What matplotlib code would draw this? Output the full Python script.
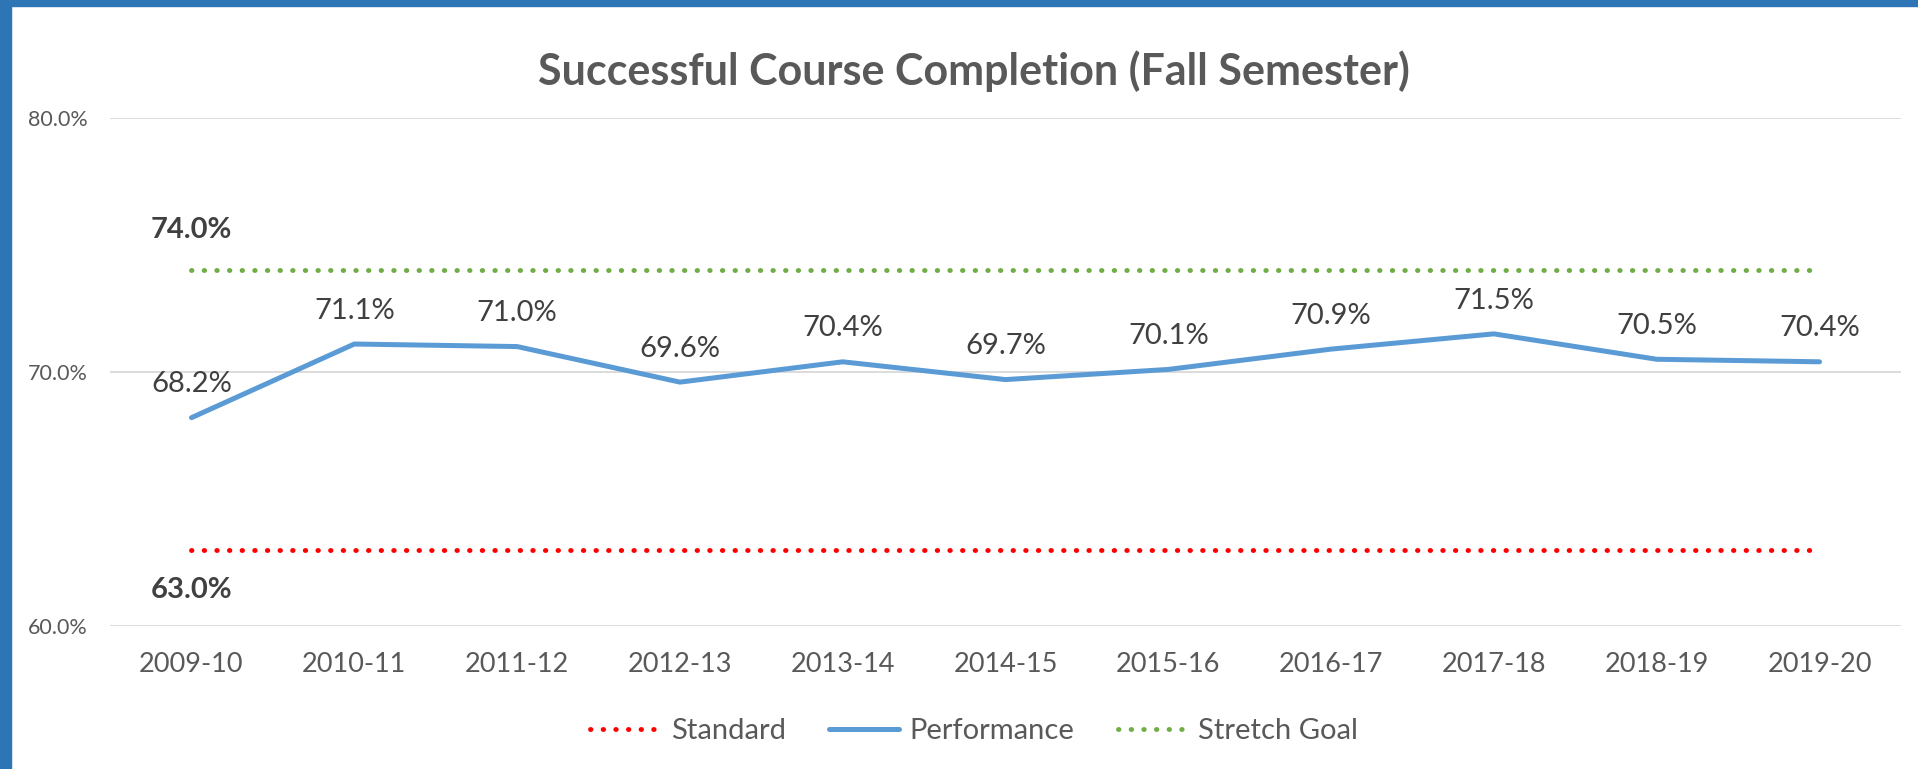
import matplotlib.pyplot as plt
import matplotlib.patches as mpatches
import numpy as np

# Data
years = ['2009-10', '2010-11', '2011-12', '2012-13', '2013-14', '2014-15',
         '2015-16', '2016-17', '2017-18', '2018-19', '2019-20']
performance = [68.2, 71.1, 71.0, 69.6, 70.4, 69.7, 70.1, 70.9, 71.5, 70.5, 70.4]
standard = [63.0] * len(years)
stretch_goal = [74.0] * len(years)

plt.rcParams['font.family'] = ['Lato', 'DejaVu Sans']

fig = plt.figure(figsize=(19.18, 7.69), dpi=100)
ax = fig.add_axes([0.0574, 0.186, 0.9337, 0.6606])

x = np.arange(len(years))
dots = (0, (0.1, 2.5))

ax.plot(x, standard, color='#FF0000', lw=3.5, linestyle=dots,
        dash_capstyle='round', label='Standard')
ax.plot(x, performance, color='#5B9BD5', lw=3.6, solid_capstyle='round',
        solid_joinstyle='round', label='Performance')
ax.plot(x, stretch_goal, color='#70AD47', lw=3.5, linestyle=dots,
        dash_capstyle='round', label='Stretch Goal')

# data labels
for xi, v in zip(x, performance):
    ax.annotate(f'{v:.1f}%', (xi, v), xytext=(0, 24), textcoords='offset points',
                ha='center', va='center', fontsize=21, color='#404040')
ax.annotate(f'{stretch_goal[0]:.1f}%', (x[0], stretch_goal[0]), xytext=(0, 29),
            textcoords='offset points', ha='center', va='center', fontsize=21,
            fontweight='bold', color='#404040')
ax.annotate(f'{standard[0]:.1f}%', (x[0], standard[0]), xytext=(0, -29),
            textcoords='offset points', ha='center', va='center', fontsize=21,
            fontweight='bold', color='#404040')

ax.set_xlim(-0.5, len(years) - 0.5)
ax.set_ylim(60, 80)
ax.set_yticks([60, 70, 80])
ax.set_yticklabels([f'{t:.1f}%' for t in [60, 70, 80]])
ax.set_xticks(x)
ax.set_xticklabels(years)
ax.tick_params(axis='y', length=0, pad=16, labelsize=15.5, labelcolor='#595959')
ax.tick_params(axis='x', length=0, pad=19, labelsize=19.5, labelcolor='#595959')
ax.grid(axis='y', color='#D9D9D9', lw=1.3)
ax.set_axisbelow(True)
for s in ax.spines.values():
    s.set_visible(False)

fig.text(0.508, 0.908, 'Successful Course Completion (Fall Semester)',
         ha='center', va='center', fontsize=31, fontweight='bold', color='#595959')

fig.legend(loc='center', bbox_to_anchor=(0.508, 0.049), ncol=3, frameon=False,
           fontsize=21, handlelength=2.4, handletextpad=0.35, columnspacing=1.5,
           labelcolor='#595959')

# blue frame on left and top
fig.patches.append(mpatches.Rectangle((0, 0), 11 / 1918, 1, transform=fig.transFigure,
                                      color='#2E75B6', zorder=10))
fig.patches.append(mpatches.Rectangle((0, 1 - 6 / 769), 1, 6 / 769, transform=fig.transFigure,
                                      color='#2E75B6', zorder=10))

fig.savefig('out.png', dpi=100)
